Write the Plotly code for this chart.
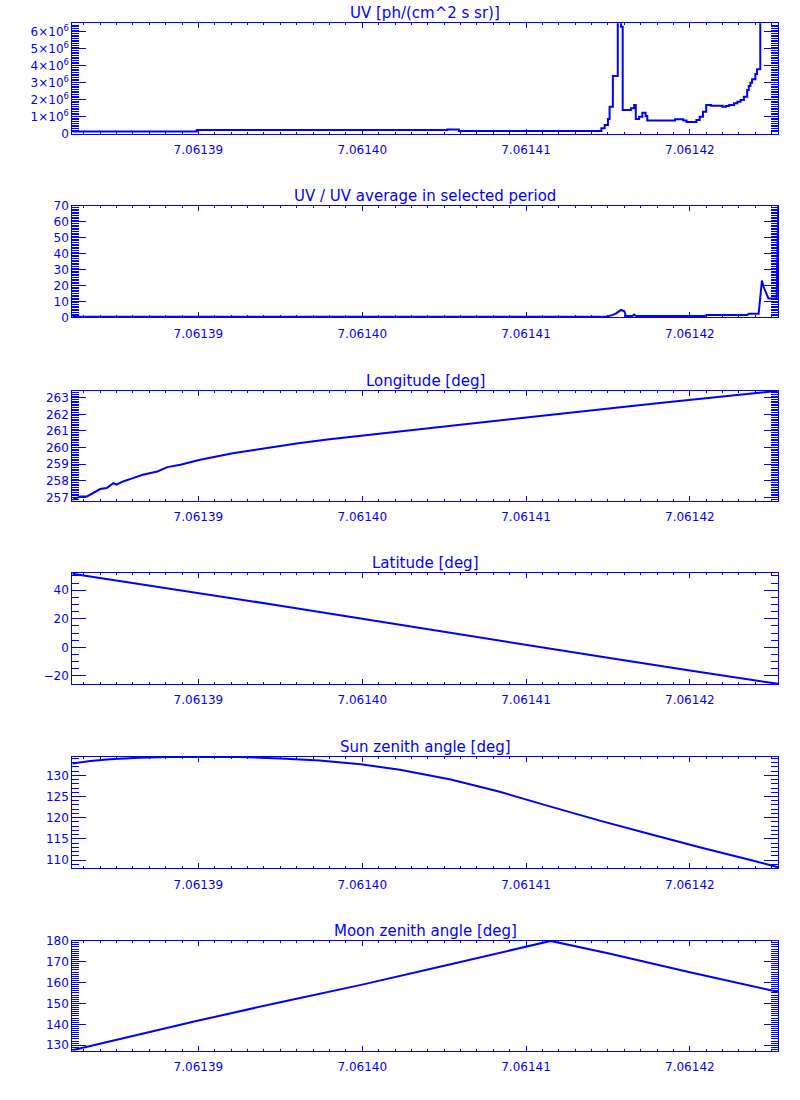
import plotly.graph_objects as go

# 🔹 datos
t_uv = [7.0613823, 7.0613899, 7.0614052, 7.0614059, 7.0614146, 7.0614148, 7.0614150,
        7.0614151, 7.0614153, 7.0614156, 7.0614158, 7.0614159, 7.0614164, 7.0614166,
        7.0614167, 7.0614169, 7.0614171, 7.0614173, 7.0614174, 7.0614191, 7.0614196,
        7.0614198, 7.0614204, 7.0614206, 7.0614208, 7.0614210, 7.0614213, 7.0614220,
        7.0614222, 7.0614224, 7.0614227, 7.0614229, 7.0614231, 7.0614233, 7.0614235,
        7.0614236, 7.0614237, 7.0614238, 7.0614240, 7.0614241, 7.0614243, 7.0614254]
uv = [0.12e6, 0.20e6, 0.24e6, 0.15e6, 0.31e6, 0.50e6, 0.86e6,
      1.58e6, 3.39e6, 7.5e6, 6.30e6, 1.39e6, 1.49e6, 1.68e6,
      0.86e6, 0.99e6, 1.23e6, 1.03e6, 0.76e6, 0.84e6, 0.76e6,
      0.68e6, 0.80e6, 0.99e6, 1.29e6, 1.68e6, 1.64e6, 1.58e6,
      1.62e6, 1.68e6, 1.78e6, 1.88e6, 1.98e6, 2.17e6, 2.57e6,
      2.80e6, 3.00e6, 3.20e6, 3.51e6, 3.79e6, 8.0e6, 8.0e6]

t_ratio = [7.0613823, 7.0614149, 7.0614153, 7.0614155, 7.0614158, 7.0614160, 7.0614161,
           7.0614165, 7.0614166, 7.0614167, 7.0614209, 7.0614210, 7.0614235, 7.0614236,
           7.0614242, 7.0614243, 7.0614244, 7.0614245, 7.0614246, 7.0614248, 7.0614253,
           7.0614254]
ratio = [0.4, 0.4, 1.5, 2.5, 4.6, 3.8, 0.8,
         0.8, 1.7, 0.8, 0.8, 1.4, 1.4, 2.3,
         2.3, 11.9, 23.1, 19.2, 17.0, 11.9, 11.9,
         75.0]

t_lon = [7.0613823, 7.0613824, 7.0613828, 7.0613832, 7.0613838, 7.0613840, 7.0613844,
         7.0613848, 7.0613850, 7.0613854, 7.0613860, 7.0613866, 7.0613875, 7.0613881,
         7.0613889, 7.0613901, 7.0613911, 7.0613921, 7.0613932, 7.0613942, 7.0613952,
         7.0613961, 7.0613980, 7.0614000, 7.0614023, 7.0614054, 7.0614084, 7.0614105,
         7.0614125, 7.0614145, 7.0614166, 7.0614186, 7.0614206, 7.0614227, 7.0614247,
         7.0614254]
lon = [256.85, 256.90, 257.06, 257.06, 257.36, 257.50, 257.56,
       257.86, 257.76, 257.96, 258.16, 258.36, 258.56, 258.82,
       258.96, 259.26, 259.46, 259.66, 259.82, 259.98, 260.14,
       260.26, 260.50, 260.72, 260.98, 261.30, 261.64, 261.88,
       262.10, 262.32, 262.52, 262.72, 262.91, 263.12, 263.34,
       263.42]

t_orb = [7.0613823, 7.0613900, 7.0613950, 7.0614000, 7.0614050, 7.0614100, 7.0614115,
         7.0614150, 7.0614200, 7.0614254]
lat = [51.6, 38.3, 29.2, 20.0, 10.8, 1.5, -1.2, -7.3, -16.2, -25.6]
mza = [127.6, 141.8, 150.6, 159.0, 168.0, 177.2, 179.9, 174.0, 164.9, 155.5]

t_sza = [7.0613823, 7.0613834, 7.0613846, 7.0613864, 7.0613883, 7.0613901, 7.0613925,
         7.0613950, 7.0613974, 7.0613999, 7.0614023, 7.0614054, 7.0614084, 7.0614115,
         7.0614145, 7.0614176, 7.0614206, 7.0614237, 7.0614254]
sza = [132.8, 133.4, 133.8, 134.15, 134.3, 134.38, 134.35,
       134.0, 133.5, 132.6, 131.3, 129.0, 126.1, 122.6,
       119.3, 116.1, 113.0, 110.0, 108.3]

x_ticks = [7.06139, 7.06140, 7.06141, 7.06142]
x_range = [7.0613823, 7.0614254]

uv_tickvals = [0, 1e6, 2e6, 3e6, 4e6, 5e6, 6e6]
uv_ticktext = ["0"] + [f"{k}×10<sup>6</sup>" for k in range(1, 7)]

titulos = ["UV [ph/(cm^2 s sr)]", "UV / UV average in selected period",
           "Longitude [deg]", "Latitude [deg]", "Sun zenith angle [deg]",
           "Moon zenith angle [deg]"]

# 🔹 geometría (pixeles)
W, H = 800, 1100
x0, x1 = 72.3, 778.3
tops = [23.3, 206.0, 390.7, 572.7, 756.7, 940.7]
bottoms = [133.5, 317.3, 500.7, 684.0, 868.3, 1050.7]

AZUL = "#0000ff"
FUENTE = "DejaVu Sans"

paneles = [
    dict(x=t_uv, y=uv, shape="hv", yrange=[0, 6.5e6], tickvals=uv_tickvals,
         ticktext=uv_ticktext, dtick=None, minor=1e5),
    dict(x=t_ratio, y=ratio, shape="linear", yrange=[0, 70], tickvals=None,
         ticktext=None, dtick=10, minor=1),
    dict(x=t_lon, y=lon, shape="linear", yrange=[256.8, 263.42], tickvals=None,
         ticktext=None, dtick=1, minor=0.1),
    dict(x=t_orb, y=lat, shape="linear", yrange=[-25.7, 52.3], tickvals=None,
         ticktext=None, dtick=20, minor=5),
    dict(x=t_sza, y=sza, shape="linear", yrange=[108.04, 134.4], tickvals=None,
         ticktext=None, dtick=5, minor=1),
    dict(x=t_orb, y=mza, shape="linear", yrange=[127.4, 180.0], tickvals=None,
         ticktext=None, dtick=10, minor=1),
]

fig = go.Figure()
anotaciones = []

for i, p in enumerate(paneles):
    n = i + 1
    xa = "x" if n == 1 else f"x{n}"
    ya = "y" if n == 1 else f"y{n}"
    fig.add_trace(go.Scatter(
        x=p["x"], y=p["y"], mode="lines", xaxis=xa, yaxis=ya,
        line=dict(color=AZUL, width=2, shape=p["shape"]),
        showlegend=False, hoverinfo="skip"
    ))

    dom_y = [1 - bottoms[i] / H, 1 - tops[i] / H]

    xaxis = dict(
        domain=[x0 / W, x1 / W], range=x_range, anchor=ya,
        tickvals=x_ticks, tickformat=".5f", automargin=False,
        ticks="inside", ticklen=5, tickwidth=1, tickcolor=AZUL,
        minor=dict(ticks="inside", ticklen=2, dtick=1e-6, tick0=7.06139,
                   tickcolor=AZUL, tickwidth=1, showgrid=False),
        showline=True, linecolor=AZUL, linewidth=1, mirror="allticks",
        showgrid=False, zeroline=False, ticklabelstandoff=5,
        tickfont=dict(family=FUENTE, size=12, color=AZUL),
    )
    yaxis = dict(
        domain=dom_y, range=p["yrange"], anchor=xa, automargin=False,
        ticks="inside", ticklen=14, tickwidth=1, tickcolor=AZUL,
        minor=dict(ticks="inside", ticklen=7, dtick=p["minor"],
                   tickcolor=AZUL, tickwidth=1, showgrid=False),
        showline=True, linecolor=AZUL, linewidth=1, mirror="allticks",
        showgrid=False, zeroline=False,
        tickfont=dict(family=FUENTE, size=12, color=AZUL),
    )
    if p["tickvals"] is not None:
        yaxis.update(tickmode="array", tickvals=p["tickvals"], ticktext=p["ticktext"])
    else:
        yaxis.update(dtick=p["dtick"], tick0=0)

    fig.update_layout({f"xaxis{'' if n == 1 else n}": xaxis,
                       f"yaxis{'' if n == 1 else n}": yaxis})

    anotaciones.append(dict(
        text=titulos[i], xref="paper", yref="paper",
        x=(x0 + x1) / 2 / W, y=dom_y[1], xanchor="center", yanchor="bottom",
        yshift=-1, showarrow=False,
        font=dict(family=FUENTE, size=15, color=AZUL)
    ))

fig.update_layout(
    width=W, height=H,
    margin=dict(l=0, r=0, t=0, b=0),
    plot_bgcolor="white", paper_bgcolor="white",
    annotations=anotaciones,
    showlegend=False
)

# 🔹 sin margen del body para que la figura empiece en (0, 0)
fig.write_html("out.html", config={"displayModeBar": False},
               post_script="document.body.style.margin = '0';")
